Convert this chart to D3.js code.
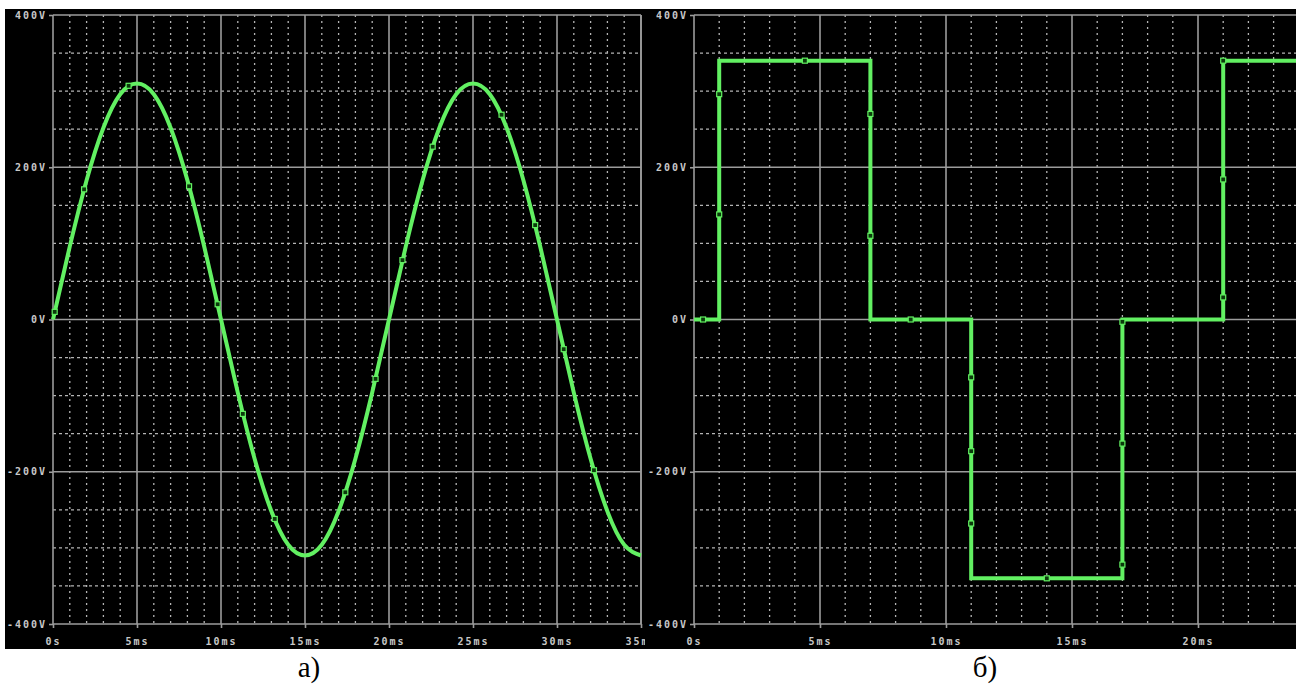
<!DOCTYPE html>
<html>
<head>
<meta charset="utf-8">
<script src="https://cdn.jsdelivr.net/npm/d3@7"></script>
<style>
  body { margin: 0; background: #fff; }
  svg { display: block; }
  .tick text { font-family: "DejaVu Sans Mono", monospace; font-weight: bold; font-size: 10px; letter-spacing: 2px; fill: #c8c8c8; }
</style>
</head>
<body>
<svg id="chart" width="1296" height="691"></svg>
<script>
// panel a) sine, 1ms samples
const sineT = [0,1,2,3,4,5,6,7,8,9,10,11,12,13,14,15,16,17,18,19,20,21,22,23,24,25,26,27,28,29,30,31,32,33,34,35];
const sineV = [0,96,183,252,296,310,296,252,183,96,0,-96,-183,-252,-296,-310,-296,-252,-183,-96,0,96,183,252,296,310,296,252,183,96,0,-96,-183,-252,-296,-310];
const sineMarkT = [0.1,1.85,4.5,8.1,9.8,11.3,13.2,17.4,19.2,20.8,22.6,26.7,28.7,30.4,32.2];
const sineMarkV = [10,171,307,175,20,-124,-262,-227,-78,78,227,269,124,-39,-198];

// panel б) quasi-square wave
const squareT = [0,1,1,7,7,11,11,17,17,21,21,24];
const squareV = [0,0,340,340,0,0,-340,-340,0,0,340,340];
const squareMarkT = [0.36,1,1,4.4,7,7,8.6,11,11,11,14,17,17,17,21,21,21];
const squareMarkV = [0,138,296,340,270,110,0,-76,-173,-268,-340,-322,-163,-3,29,184,340];

const yTicks = [-400,-200,0,200,400];
const xTicksA = [0,5,10,15,20,25,30,35];
const xTicksB = [0,5,10,15,20];

const svg = d3.select("#chart");
const green = "#62f062";

svg.append("rect").attr("x",5).attr("y",9).attr("width",1291).attr("height",640).attr("fill","#000");

const defs = svg.append("defs");
defs.append("clipPath").attr("id","clipA").append("rect").attr("x",0).attr("y",0).attr("width",645).attr("height",650);
defs.append("clipPath").attr("id","clipB").append("rect").attr("x",645).attr("y",0).attr("width",651).attr("height",650);

function drawPanel(clipId, x, y, xTicks, times, volts, markT, markV, curve, rightBorder) {
    const g = svg.append("g").attr("clip-path", "url(#" + clipId + ")");
    const [x0, x1] = x.range();
    const [y0, y1] = y.range();
    const maxT = x.domain()[1];

    // minor grid
    const minorX = [];
    for (let t = 1; t < maxT; t++) if (t % 5 !== 0) minorX.push(t);
    const minorY = [];
    for (let v = -350; v < 400; v += 50) if (v % 200 !== 0) minorY.push(v);

    g.selectAll(".vminor").data(minorX).join("line")
        .attr("x1", d => x(d)).attr("x2", d => x(d))
        .attr("y1", y1).attr("y2", y0)
        .attr("stroke", "#b4b4b4").attr("stroke-width", 1.3).attr("stroke-dasharray", "2,4");
    g.selectAll(".hminor").data(minorY).join("line")
        .attr("x1", x0).attr("x2", x1)
        .attr("y1", d => y(d)).attr("y2", d => y(d))
        .attr("stroke", "#b4b4b4").attr("stroke-width", 1.3).attr("stroke-dasharray", "3,3");

    // major grid
    g.selectAll(".vmajor").data(xTicks).join("line")
        .attr("x1", d => x(d)).attr("x2", d => x(d))
        .attr("y1", y1).attr("y2", y0)
        .attr("stroke", "#9c9c9c").attr("stroke-width", 1.6);
    g.selectAll(".hmajor").data(yTicks).join("line")
        .attr("x1", x0).attr("x2", x1)
        .attr("y1", d => y(d)).attr("y2", d => y(d))
        .attr("stroke", "#9c9c9c").attr("stroke-width", 1.6);
    if (rightBorder) {
        g.append("line").attr("x1", x1).attr("x2", x1).attr("y1", y1).attr("y2", y0)
            .attr("stroke", "#9c9c9c").attr("stroke-width", 1.6);
    }

    // axes
    const yAxis = d3.axisLeft(y).tickValues(yTicks).tickFormat(d => d + "V").tickSize(4).tickPadding(2);
    const xAxis = d3.axisBottom(x).tickValues(xTicks).tickFormat(d => d === 0 ? "0s" : d + "ms").tickSize(4).tickPadding(10);
    const ya = g.append("g").attr("transform", "translate(" + x0 + ",0)").call(yAxis);
    const xa = g.append("g").attr("transform", "translate(0," + y0 + ")").call(xAxis);
    [ya, xa].forEach(a => {
        a.select(".domain").remove();
        a.selectAll(".tick line").attr("stroke", "#9c9c9c").attr("stroke-width", 1.6);
    });

    // trace
    const pts = times.map((t, i) => [t, volts[i]]);
    g.append("path").datum(pts)
        .attr("fill", "none").attr("stroke", green).attr("stroke-width", 4)
        .attr("stroke-linejoin", "miter")
        .attr("d", d3.line().x(d => x(d[0])).y(d => y(d[1])).curve(curve));

    const marks = markT.map((t, i) => [t, markV[i]]);
    g.selectAll(".mark").data(marks).join("rect")
        .attr("x", d => x(d[0]) - 2.5).attr("y", d => y(d[1]) - 2.5)
        .attr("width", 5).attr("height", 5)
        .attr("fill", "#0b3a0b").attr("stroke", green).attr("stroke-width", 1.2);
}

const yA = d3.scaleLinear().domain([-400, 400]).range([624, 15]);
const xA = d3.scaleLinear().domain([0, 35]).range([53, 641]);
drawPanel("clipA", xA, yA, xTicksA, sineT, sineV, sineMarkT, sineMarkV, d3.curveNatural, true);

const xB = d3.scaleLinear().domain([0, 24]).range([694, 1298.8]);
drawPanel("clipB", xB, yA, xTicksB, squareT, squareV, squareMarkT, squareMarkV, d3.curveLinear, false);

// captions
svg.append("text").attr("x", 309).attr("y", 677).attr("text-anchor", "middle")
    .attr("font-family", "Liberation Serif, serif").attr("font-size", 29).attr("fill", "#000").text("а)");
svg.append("text").attr("x", 985).attr("y", 677).attr("text-anchor", "middle")
    .attr("font-family", "Liberation Serif, serif").attr("font-size", 29).attr("fill", "#000").text("б)");
</script>
</body>
</html>
